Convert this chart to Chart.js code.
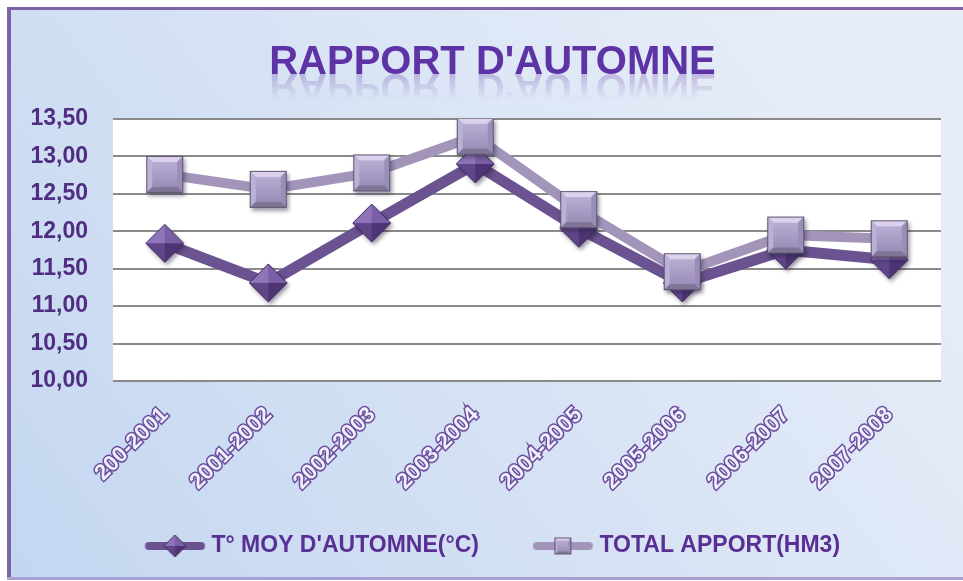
<!DOCTYPE html>
<html>
<head>
<meta charset="utf-8">
<script src="https://cdn.jsdelivr.net/npm/chart.js@4/dist/chart.umd.min.js"></script>
<style>
  html, body { margin: 0; padding: 0; background: #fff; }
  canvas { display: block; }
</style>
</head>
<body>
<canvas id="chart" width="963" height="581"></canvas>
<script>
// data
const categories = ['200-2001', '2001-2002', '2002-2003', '2003-2004', '2004-2005', '2005-2006', '2006-2007', '2007-2008'];
const tempMoy = [11.84, 11.31, 12.11, 12.90, 12.04, 11.31, 11.75, 11.62];
const totalApport = [12.76, 12.56, 12.78, 13.27, 12.29, 11.46, 11.95, 11.90];
const seriesNames = ["T° MOY D'AUTOMNE(°C)", 'TOTAL APPORT(HM3)'];
const yMin = 10, yMax = 13.5, yStep = 0.5;

const FONT = "'Liberation Sans', Arial, sans-serif";

function poly(g, pts, fill) {
  g.beginPath();
  g.moveTo(pts[0][0], pts[0][1]);
  for (let i = 1; i < pts.length; i++) g.lineTo(pts[i][0], pts[i][1]);
  g.closePath();
  g.fillStyle = fill;
  g.fill();
}

// bevelled square marker
function makeSquare(side, shadow) {
  const pad = 8;
  const c = document.createElement('canvas');
  c.width = c.height = side + pad * 2;
  const g = c.getContext('2d');
  const x0 = pad, y0 = pad, s = side, b = Math.max(3, Math.round(side * 0.17));
  if (shadow) {
    g.save();
    g.shadowColor = 'rgba(40,30,60,0.45)';
    g.shadowBlur = 4; g.shadowOffsetX = 2; g.shadowOffsetY = 3;
    g.fillStyle = '#9d90b9';
    g.fillRect(x0, y0, s, s);
    g.restore();
  }
  poly(g, [[x0, y0], [x0 + s, y0], [x0 + s - b, y0 + b], [x0 + b, y0 + b]], '#dcd2ee');
  poly(g, [[x0, y0], [x0 + b, y0 + b], [x0 + b, y0 + s - b], [x0, y0 + s]], '#bbb0d5');
  poly(g, [[x0 + s, y0], [x0 + s, y0 + s], [x0 + s - b, y0 + s - b], [x0 + s - b, y0 + b]], '#9a8db6');
  poly(g, [[x0, y0 + s], [x0 + b, y0 + s - b], [x0 + s - b, y0 + s - b], [x0 + s, y0 + s]], '#7f7496');
  const fg = g.createLinearGradient(0, y0 + b, 0, y0 + s - b);
  fg.addColorStop(0, '#b9add4');
  fg.addColorStop(1, '#9b8fb8');
  g.fillStyle = fg;
  g.fillRect(x0 + b, y0 + b, s - 2 * b, s - 2 * b);
  g.strokeStyle = '#5d5470';
  g.lineWidth = 1;
  g.strokeRect(x0 + 0.5, y0 + 0.5, s - 1, s - 1);
  return c;
}

// faceted diamond marker
function makeDiamond(r, shadow) {
  const pad = 8;
  const c = document.createElement('canvas');
  c.width = c.height = 2 * r + pad * 2;
  const g = c.getContext('2d');
  const cx = r + pad, cy = r + pad;
  const T = [cx, cy - r], R = [cx + r, cy], B = [cx, cy + r], L = [cx - r, cy], C = [cx, cy];
  if (shadow) {
    g.save();
    g.shadowColor = 'rgba(30,20,50,0.45)';
    g.shadowBlur = 4; g.shadowOffsetX = 2; g.shadowOffsetY = 3;
    poly(g, [T, R, B, L], '#5f458a');
    g.restore();
  }
  poly(g, [L, T, C], '#8f74ba');
  poly(g, [T, R, C], '#7a5fa7');
  poly(g, [L, B, C], '#604689');
  poly(g, [B, R, C], '#4d3575');
  g.beginPath();
  g.moveTo(T[0], T[1]); g.lineTo(R[0], R[1]); g.lineTo(B[0], B[1]); g.lineTo(L[0], L[1]); g.closePath();
  g.strokeStyle = '#3d2b5a';
  g.lineWidth = 1;
  g.stroke();
  return c;
}

// legend sample: thick line with a small marker, drawn in the right part of a wider canvas
const LEGEND_BOX = 91;
function makeLegendIcon(color, marker) {
  const c = document.createElement('canvas');
  c.width = 120; c.height = 34;
  const g = c.getContext('2d');
  const x0 = LEGEND_BOX / 2 + 4;
  g.strokeStyle = color;
  g.lineWidth = 8;
  g.lineCap = 'round';
  g.beginPath(); g.moveTo(x0 + 5, 17); g.lineTo(x0 + 57, 17); g.stroke();
  g.drawImage(marker, x0 + 31 - marker.width / 2, 17 - marker.height / 2);
  return c;
}

const darkColor = '#6b5290';
const lightColor = '#a395ba';
const diamondImg = makeDiamond(19, true);
const squareImg = makeSquare(37, true);
const legendIcons = [
  makeLegendIcon(darkColor, makeDiamond(11, false)),
  makeLegendIcon(lightColor, makeSquare(17, false))
];

const bgPlugin = {
  id: 'bg',
  afterLayout(chart) {
    // title sits a little right of the canvas centre in the reference
    if (chart.titleBlock) chart.titleBlock.left += 36;
  },
  beforeDraw(chart) {
    const { ctx, width, height, chartArea } = chart;
    ctx.save();
    ctx.fillStyle = '#ffffff';
    ctx.fillRect(0, 0, width, height);
    const g = ctx.createLinearGradient(0, height, width * 0.8, 0);
    g.addColorStop(0, '#c3d6f0');
    g.addColorStop(1, '#e7edf8');
    ctx.fillStyle = g;
    ctx.fillRect(7, 7, width - 7, 572);
    ctx.fillStyle = '#7d62a6';
    ctx.fillRect(7, 7, width - 7, 3);
    ctx.fillRect(7, 7, 4, 572);
    ctx.fillStyle = '#a89fd3';
    ctx.fillRect(7, 577, width - 7, 3);
    ctx.fillStyle = '#ffffff';
    ctx.fillRect(chartArea.left, chartArea.top, chartArea.right - chartArea.left, chartArea.bottom - chartArea.top);
    ctx.restore();
  }
};

// faint mirror image under the title
const titleReflection = {
  id: 'titleReflection',
  afterDraw(chart) {
    const tb = chart.titleBlock;
    if (!tb) return;
    const opts = tb.options;
    const ctx = chart.ctx;
    const size = opts.font.size;
    const midY = tb.top + opts.padding.top + size * opts.font.lineHeight / 2;
    const midX = (tb.left + tb.right) / 2;
    ctx.save();
    ctx.font = 'bold ' + size + 'px ' + FONT;
    ctx.textAlign = 'center';
    ctx.textBaseline = 'middle';
    const m = ctx.measureText(opts.text);
    const mirrorY = midY + m.actualBoundingBoxDescent;
    ctx.translate(0, 2 * mirrorY);
    ctx.scale(1, -1);
    const g = ctx.createLinearGradient(0, mirrorY, 0, mirrorY - 26);
    g.addColorStop(0, 'rgba(110,70,170,0.30)');
    g.addColorStop(1, 'rgba(110,70,170,0)');
    ctx.fillStyle = g;
    ctx.fillText(opts.text, midX, midY);
    ctx.restore();
  }
};

new Chart(document.getElementById('chart'), {
  type: 'line',
  data: {
    labels: categories,
    datasets: [
      {
        label: seriesNames[0],
        data: tempMoy,
        borderColor: darkColor,
        backgroundColor: darkColor,
        borderWidth: 11,
        borderJoinStyle: 'round',
        pointStyle: diamondImg,
        pointRadius: 1,
        pointHoverRadius: 1,
        pointBorderWidth: 0,
        order: 1
      },
      {
        label: seriesNames[1],
        data: totalApport,
        borderColor: lightColor,
        backgroundColor: lightColor,
        borderWidth: 10,
        borderJoinStyle: 'round',
        pointStyle: squareImg,
        pointRadius: 1,
        pointHoverRadius: 1,
        pointBorderWidth: 0,
        order: 0
      }
    ]
  },
  options: {
    responsive: false,
    animation: false,
    events: [],
    layout: { padding: { top: 0, left: 0, right: 14, bottom: 13.5 } },
    scales: {
      x: {
        offset: true,
        grid: { display: false },
        border: { display: false },
        afterFit(scale) {
          scale.height = 135.5;
          scale.paddingRight = 22;
        },
        ticks: {
          autoSkip: false,
          minRotation: 45,
          maxRotation: 45,
          padding: 13,
          color: '#eef0fa',
          textStrokeColor: '#6b4c9f',
          textStrokeWidth: 3,
          font: { family: FONT, size: 22, weight: 'bold' }
        }
      },
      y: {
        min: yMin,
        max: yMax,
        afterFit(scale) { scale.width = 113; },
        grid: { color: '#8a8a8a', lineWidth: 2, drawTicks: false },
        border: { display: false },
        ticks: {
          stepSize: yStep,
          padding: 25,
          color: '#4f2d80',
          font: { family: FONT, size: 23, weight: 'bold' },
          callback: v => v.toFixed(2).replace('.', ',')
        }
      }
    },
    plugins: {
      title: {
        display: true,
        text: "RAPPORT D'AUTOMNE",
        color: '#5e33a6',
        font: { family: FONT, size: 40, weight: 'bold', lineHeight: 1.2 },
        padding: { top: 39, bottom: 32 }
      },
      legend: {
        position: 'bottom',
        labels: {
          usePointStyle: true,
          pointStyleWidth: LEGEND_BOX,
          padding: 18,
          color: '#5a2f94',
          font: { family: FONT, size: 23, weight: 'bold' },
          sort: (a, b) => a.datasetIndex - b.datasetIndex,
          generateLabels(chart) {
            const items = Chart.defaults.plugins.legend.labels.generateLabels(chart);
            items.forEach(it => { it.pointStyle = legendIcons[it.datasetIndex]; });
            return items;
          }
        }
      },
      tooltip: { enabled: false }
    }
  },
  plugins: [bgPlugin, titleReflection]
});
</script>
</body>
</html>
